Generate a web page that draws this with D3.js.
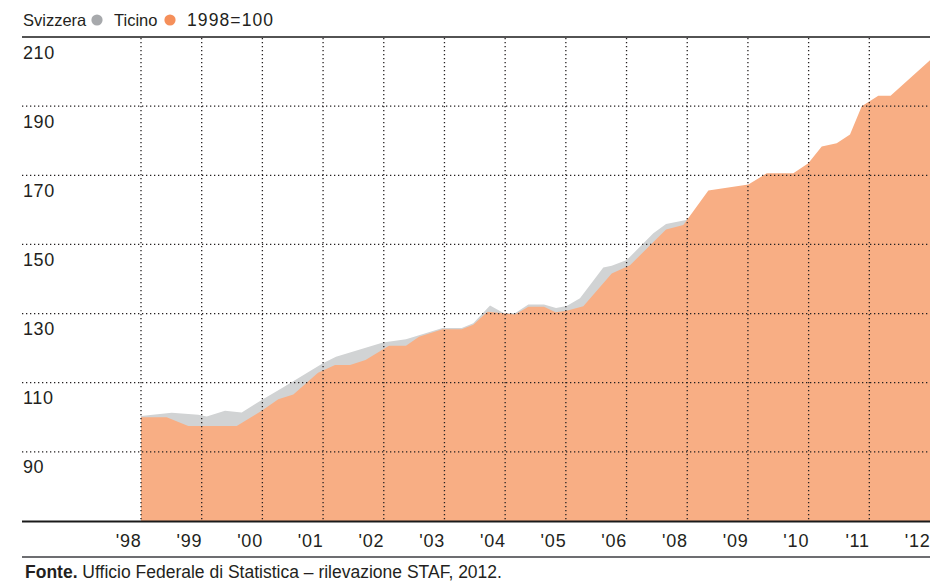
<!DOCTYPE html>
<html>
<head>
<meta charset="utf-8">
<script src="https://cdn.jsdelivr.net/npm/d3@7"></script>
<style>
  html, body { margin: 0; padding: 0; background: #fff; }
  svg { display: block; }
  text { font-family: "Liberation Sans", Arial, sans-serif; fill: #231f20; }
</style>
</head>
<body>
<svg id="chart" width="948" height="583"></svg>
<script>
// ---- data (x position in tick units from '98 = 0 to '12 = 13) ----
const xLabels = ["'98","'99","'00","'01","'02","'03","'04","'05","'06","'08","'09","'10","'11","'12"];
const yTicks = [210, 190, 170, 150, 130, 110, 90];

const svizzeraT = [0, 0.506, 0.944, 1.083, 1.384, 1.659, 1.989, 2.318, 2.997, 3.213, 3.987, 4.366, 4.581, 4.968, 5.284, 5.475, 5.751, 5.981, 6.162, 6.382, 6.640, 6.838, 7.014, 7.233, 7.617, 7.756, 8.004, 8.442, 8.651, 8.981, 9.013];
const svizzeraV = [100.4, 101.3, 100.7, 100.2, 101.9, 101.4, 105.0, 108.4, 115.6, 117.5, 121.6, 122.6, 123.7, 125.8, 125.8, 127.2, 132.3, 130.1, 130.1, 132.6, 132.6, 131.6, 132.2, 134.4, 143.3, 143.8, 145.5, 153.2, 155.9, 157.1, 157.5];

const ticinoT = [0, 0.423, 0.779, 1.577, 1.989, 2.262, 2.510, 2.917, 3.197, 3.444, 3.699, 4.086, 4.366, 4.581, 4.968, 5.284, 5.475, 5.709, 5.957, 6.162, 6.382, 6.640, 6.830, 7.014, 7.288, 7.756, 8.057, 8.651, 8.936, 9.348, 10.007, 10.310, 10.748, 10.995, 11.216, 11.463, 11.682, 11.875, 12.148, 12.350, 13.000];
const ticinoV = [100, 100, 97.5, 97.5, 101.9, 105.2, 106.6, 112.9, 115.1, 115.1, 116.6, 120.7, 120.7, 123.3, 125.5, 125.5, 126.8, 130.5, 130.1, 129.7, 132, 132, 130.4, 130.8, 132.1, 141.6, 144, 154.3, 155.6, 165.6, 167.3, 170.6, 170.6, 173.5, 178.3, 179.3, 181.8, 190, 193, 193, 203.3];

const legendItems = ["Svizzera", "Ticino", "1998=100"];
const fonteBold = "Fonte.";
const fonteText = " Ufficio Federale di Statistica – rilevazione STAF, 2012.";

// ---- layout ----
const svg = d3.select("#chart");
const L = 22, R = 930, plotL = 141, T = 37, B = 521;

const x = d3.scaleLinear().domain([0, 13]).range([plotL, R]);
const y = d3.scaleLinear().domain([70, 210]).range([B, T]);

const colGray = "#d1d3d4", colOrange = "#f8ae84";

const area = d3.area()
  .x(d => x(d[0]))
  .y0(y(70))
  .y1(d => y(d[1]));

const sv = svizzeraT.map((t, i) => [t, svizzeraV[i]]);
const ti = ticinoT.map((t, i) => [t, ticinoV[i]]);

svg.append("path").attr("d", area(sv)).attr("fill", colGray);
svg.append("path").attr("d", area(ti)).attr("fill", colOrange);

// ---- gridlines ----
const dots = "1.3,2.7";
svg.append("g").selectAll("line").data(yTicks.slice(1)).join("line")
  .attr("x1", L).attr("x2", R)
  .attr("y1", d => y(d)).attr("y2", d => y(d))
  .attr("stroke", "#231f20").attr("stroke-width", 1.3)
  .attr("stroke-dasharray", dots);

svg.append("g").selectAll("line").data(d3.range(0, 13)).join("line")
  .attr("x1", d => x(d)).attr("x2", d => x(d))
  .attr("y1", T + 1).attr("y2", B)
  .attr("stroke", "#231f20").attr("stroke-width", 1.3)
  .attr("stroke-dasharray", dots);

// ---- axis lines ----
svg.append("line").attr("x1", L).attr("x2", R).attr("y1", T).attr("y2", T)
  .attr("stroke", "#1a1a1a").attr("stroke-width", 1.6);
svg.append("line").attr("x1", L).attr("x2", R).attr("y1", B + 0.5).attr("y2", B + 0.5)
  .attr("stroke", "#1a1a1a").attr("stroke-width", 1.8);
svg.append("line").attr("x1", L).attr("x2", R).attr("y1", 557).attr("y2", 557)
  .attr("stroke", "#6d6e71").attr("stroke-width", 2);

// ---- y labels (below their line) ----
svg.append("g").selectAll("text").data(yTicks).join("text")
  .attr("x", L + 1).attr("y", d => y(d) + 21.5)
  .attr("font-size", 18).attr("letter-spacing", 0.6)
  .text(d => d);

// ---- x labels (right-aligned at tick) ----
svg.append("g").selectAll("text").data(xLabels).join("text")
  .attr("x", (d, i) => x(i) + 0.6).attr("y", 546.5)
  .attr("text-anchor", "end")
  .attr("font-size", 18).attr("letter-spacing", 0.8)
  .text(d => d);

// ---- legend ----
const lg = svg.append("g");
lg.append("text").attr("x", 23).attr("y", 26).attr("font-size", 16.5).text(legendItems[0]);
lg.append("circle").attr("cx", 97).attr("cy", 20).attr("r", 5.6).attr("fill", "#a7a9ac");
lg.append("text").attr("x", 114).attr("y", 26).attr("font-size", 16.5).text(legendItems[1]);
lg.append("circle").attr("cx", 170).attr("cy", 20).attr("r", 5.6).attr("fill", "#f58f5a");
lg.append("text").attr("x", 187).attr("y", 26).attr("font-size", 17.5).attr("letter-spacing", 1.1).text(legendItems[2]);

// ---- source ----
const ft = svg.append("text").attr("x", 25).attr("y", 577.5).attr("font-size", 17.5);
ft.append("tspan").attr("font-weight", "bold").text(fonteBold);
ft.append("tspan").text(fonteText);
</script>
</body>
</html>
